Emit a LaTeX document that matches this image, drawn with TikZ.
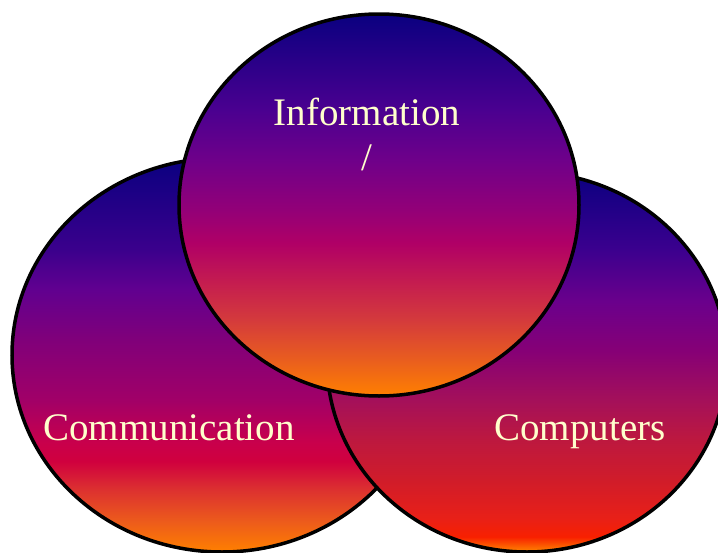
\documentclass[tikz,border=0pt]{standalone}
\usepackage{fontspec}
\setmainfont{Liberation Serif}
\definecolor{cream}{HTML}{FFFFCC}
% left circle colours
\definecolor{La}{HTML}{0A0080}
\definecolor{Lb}{HTML}{3A008C}
\definecolor{Lc}{HTML}{600090}
\definecolor{Ld}{HTML}{80007A}
\definecolor{Le}{HTML}{A00068}
\definecolor{Lf}{HTML}{C8004C}
\definecolor{Lg}{HTML}{D0003E}
\definecolor{Lh}{HTML}{DC3030}
\definecolor{Li}{HTML}{EC5A1C}
\definecolor{Lj}{HTML}{FF8000}
% top circle colours
\definecolor{Ta}{HTML}{0A0080}
\definecolor{Tb}{HTML}{4A0090}
\definecolor{Tc}{HTML}{6E008A}
\definecolor{Td}{HTML}{920078}
\definecolor{Te}{HTML}{B00066}
\definecolor{Tf}{HTML}{C41C50}
\definecolor{Tg}{HTML}{D43A3C}
\definecolor{Th}{HTML}{E85C20}
\definecolor{Ti}{HTML}{FF8000}
% right circle colours
\definecolor{Ra}{HTML}{0A0080}
\definecolor{Rb}{HTML}{3A008E}
\definecolor{Rc}{HTML}{6A008C}
\definecolor{Rd}{HTML}{860076}
\definecolor{Re}{HTML}{A4105A}
\definecolor{Rf}{HTML}{BC1840}
\definecolor{Rg}{HTML}{D01C2A}
\definecolor{Rh}{HTML}{E82018}
\definecolor{Ri}{HTML}{F82000}
\definecolor{Rj}{HTML}{FF8800}
\pgfdeclareverticalshading{leftshade}{100bp}{color(0bp)=(Lj); color(25bp)=(Lj); color(29bp)=(Li); color(33bp)=(Lh); color(36.5bp)=(Lg); color(39bp)=(Lf); color(44.5bp)=(Le); color(52bp)=(Ld); color(58.5bp)=(Lc); color(63.5bp)=(Lb); color(75bp)=(La); color(100bp)=(La)}
\pgfdeclareverticalshading{topshade}{100bp}{color(0bp)=(Ti); color(25bp)=(Ti); color(30bp)=(Th); color(35bp)=(Tg); color(40bp)=(Tf); color(45bp)=(Te); color(49.5bp)=(Td); color(56bp)=(Tc); color(62.5bp)=(Tb); color(75bp)=(Ta); color(100bp)=(Ta)}
\pgfdeclareverticalshading{rightshade}{100bp}{color(0bp)=(Rj); color(25bp)=(Rj); color(27bp)=(Ri); color(29.5bp)=(Rh); color(34.5bp)=(Rg); color(40bp)=(Rf); color(45bp)=(Re); color(51.5bp)=(Rd); color(58bp)=(Rc); color(65bp)=(Rb); color(75bp)=(Ra); color(100bp)=(Ra)}
\begin{document}
\begin{tikzpicture}[x=1pt,y=-1pt,
  ring/.style={draw=black, line width=3.5pt},
  lbl/.style={text=cream, font=\fontsize{39}{45}\selectfont, inner sep=0pt, anchor=base}]
\useasboundingbox (0,0) rectangle (718,552);
\clip (0,0) rectangle (718,552);
\shadedraw[ring, shading=leftshade] (222,355) ellipse [x radius=210pt, y radius=197pt];
\shadedraw[ring, shading=rightshade] (527,362) ellipse [x radius=200pt, y radius=190pt];
\shadedraw[ring, shading=topshade] (379,205) ellipse [x radius=200pt, y radius=191pt];
\node[lbl] (info) at (367,125) {Information};
\node[lbl] (slash) at (367,170) {/};
\node[lbl] (comm) at (169,440) {Communication};
\node[lbl] (comp) at (580,440) {Computers};
\end{tikzpicture}
\end{document}
